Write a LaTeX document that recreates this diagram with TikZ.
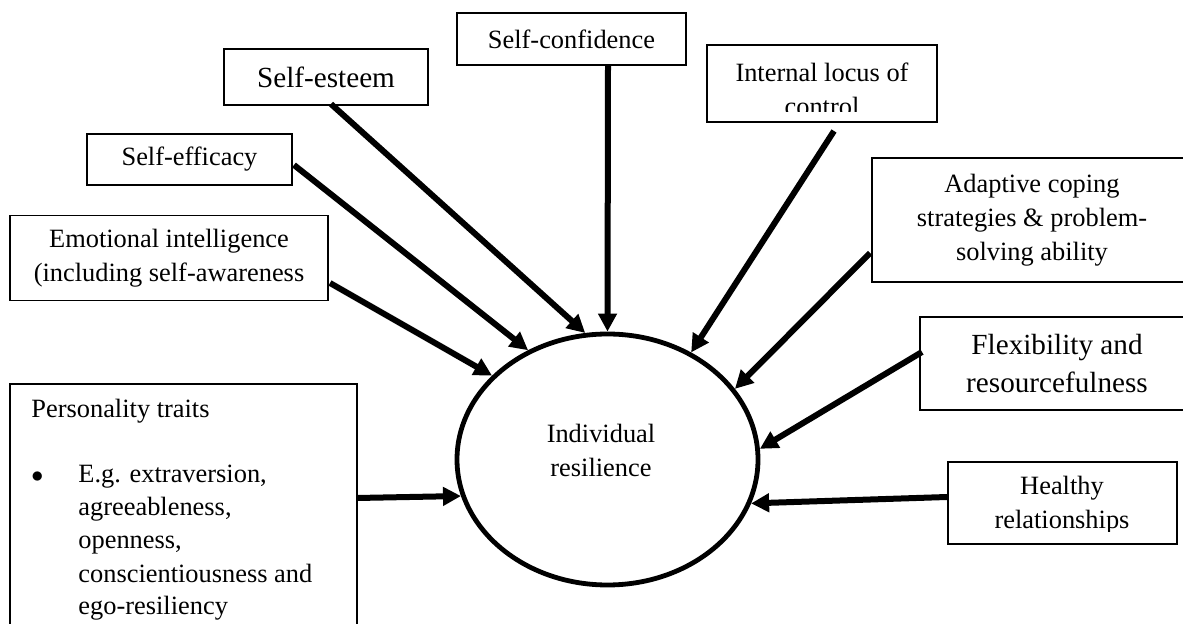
\documentclass[tikz,border=0pt]{standalone}
\usepackage{fontspec}
\setmainfont{Liberation Serif}
\usetikzlibrary{shapes.geometric,arrows.meta}
\tikzset{
  box/.style={draw=black, line width=0.9pt, rectangle, inner sep=0pt, align=center,
    font=\fontsize{13.2}{17}\selectfont},
  bigbox/.style={box, font=\fontsize{14.6}{19}\selectfont},
  txt/.style={inner sep=0pt, align=center, font=\fontsize{13.2}{17}\selectfont},
  ltxt/.style={inner sep=0pt, anchor=base west, font=\fontsize{13.2}{17}\selectfont},
  arr/.style={line width=3pt, -{Triangle[length=9pt,width=9pt]}},
  core/.style={draw=black, line width=2.4pt, ellipse, inner sep=0pt}
}
\begin{document}
\begin{tikzpicture}[x=0.5pt,y=-0.5pt]
\useasboundingbox (0,0) rectangle (1183,624);
\clip (0,0) rectangle (1183,624);

% central ellipse
\node[core, minimum width=150.5pt, minimum height=125.5pt] (ell) at (607.5,459.5) {};
\node[txt] (elltext) at (601,450.5) {Individual\\resilience};

% boxes
\node[box, minimum width=114.5pt, minimum height=26pt] (conf) at (571.5,39) {Self-confidence};
\node[bigbox, minimum width=102pt, minimum height=28pt] (esteem) at (326,77) {Self-esteem};
\node[box, minimum width=102.5pt, minimum height=25.5pt] (effic) at (189.5,159.5) {Self-efficacy};
\node[box, minimum width=159pt, minimum height=42.5pt] (emot) at (169,258) {Emotional intelligence\\(including self-awareness};
\node[box, minimum width=115pt, minimum height=38.5pt] (locus) at (822,83.5) {};
\begin{scope}
  \clip (707,45) rectangle (937,112);
  \node[txt] (locustext) at (822,89) {Internal locus of\\control};
\end{scope}
\node[box, minimum width=160pt, minimum height=62pt] (adapt) at (1032,220) {Adaptive coping\\strategies \& problem-\\solving ability};
\node[bigbox, minimum width=137pt, minimum height=46.5pt] (flex) at (1057,363.5) {Flexibility and\\resourcefulness};
\node[box, minimum width=114.5pt, minimum height=41pt] (healthy) at (1062.5,503) {};
\begin{scope}
  \clip (948,462) rectangle (1177,532);
  \node[txt] (healthytext) at (1062,505.5) {Healthy\\relationships};
\end{scope}
\node[box, minimum width=173.5pt, minimum height=133pt] (pers) at (183.5,517) {};
\node[ltxt] (perstitle) at (31,418) {Personality traits};
\node[ltxt] (bullet) at (31,483) {$\bullet$};
\node[ltxt] (p1) at (78,483) {E.g. extraversion,};
\node[ltxt] (p2) at (78,516) {agreeableness,};
\node[ltxt] (p3) at (78,549) {openness,};
\node[ltxt] (p4) at (78,582) {conscientiousness and};
\node[ltxt] (p5) at (78,615) {ego-resiliency};

% connector start points
\coordinate (confOut) at (608,66);
\coordinate (esteemOut) at (331,104);
\coordinate (efficOut) at (294,165);
\coordinate (emotOut) at (330,283);
\coordinate (locusOut) at (834,131);
\coordinate (adaptOut) at (870,253);
\coordinate (flexOut) at (922,352);
\coordinate (healthyOut) at (947,497);
\coordinate (persOut) at (357,498);

% connectors
\draw[arr] (confOut) -- (ell.north);
\draw[arr] (esteemOut) -- (ell.100.2);
\draw[arr] (efficOut) -- (ell.126.4);
\draw[arr] (emotOut) -- (ell.144.7);
\draw[arr] (locusOut) -- (ell.52.3);
\draw[arr] (adaptOut) -- (ell.29.3);
\draw[arr] (flexOut) -- (ell.4.7);
\draw[arr] (healthyOut) -- (ell.-17.5);
\draw[arr] (persOut) -- (ell.194.7);
\end{tikzpicture}
\end{document}
